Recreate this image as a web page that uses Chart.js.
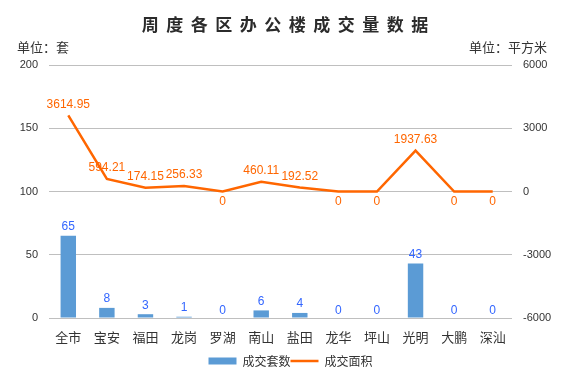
<!DOCTYPE html>
<html>
<head>
<meta charset="utf-8">
<script src="https://cdn.jsdelivr.net/npm/chart.js@4/dist/chart.umd.min.js"></script>
<style>
  html, body { margin: 0; padding: 0; background: #fff; }
  #wrap { width: 581px; height: 372px; }
</style>
</head>
<body>
<div id="wrap"><canvas id="myChart" width="581" height="372"></canvas></div>
<script>
// data
const districts = ['全市', '宝安', '福田', '龙岗', '罗湖', '南山', '盐田', '龙华', '坪山', '光明', '大鹏', '深汕'];
const dealCount = [65, 8, 3, 1, 0, 6, 4, 0, 0, 43, 0, 0];
const dealArea = [3614.95, 594.21, 174.15, 256.33, 0, 460.11, 192.52, 0, 0, 1937.63, 0, 0];
const countTicks = [0, 50, 100, 150, 200];
const areaTicks = [-6000, -3000, 0, 3000, 6000];

const CJK = '"Noto Sans CJK SC", "Liberation Sans", sans-serif';
const NUM = '"Liberation Sans", Arial, sans-serif';
const barColor = '#5B9BD5';
const lineColor = '#FF6600';

// title + unit captions
const headerPlugin = {
  id: 'header',
  afterDraw(chart) {
    const ctx = chart.ctx;
    ctx.save();
    ctx.fillStyle = '#2b2b2b';
    ctx.textBaseline = 'middle';
    ctx.font = 'bold 17px ' + CJK;
    const title = '周度各区办公楼成交量数据';
    const sp = 7.5;
    let w = 0;
    for (const ch of title) w += ctx.measureText(ch).width;
    w += sp * (title.length - 1);
    let x = 285 - w / 2;
    ctx.textAlign = 'left';
    for (const ch of title) {
      ctx.fillText(ch, x, 25);
      x += ctx.measureText(ch).width + sp;
    }
    ctx.fillStyle = '#333';
    ctx.font = '13px ' + CJK;
    ctx.fillText('单位：套', 17, 47);
    ctx.textAlign = 'right';
    ctx.fillText('单位：平方米', 547, 47);
    ctx.restore();
  }
};

// value labels on bars and line points
const valueLabels = {
  id: 'valueLabels',
  afterDatasetsDraw(chart) {
    const ctx = chart.ctx;
    ctx.save();
    ctx.textAlign = 'center';
    ctx.textBaseline = 'middle';
    ctx.font = '12px ' + NUM;
    ctx.fillStyle = '#3366FF';
    chart.getDatasetMeta(0).data.forEach((el, i) => {
      ctx.fillText(String(dealCount[i]), el.x, el.y - (dealCount[i] ? 9 : 7));
    });
    ctx.fillStyle = lineColor;
    chart.getDatasetMeta(1).data.forEach((el, i) => {
      const v = dealArea[i];
      const txt = v === 0 ? '0' : v.toFixed(2);
      ctx.fillText(txt, el.x, v === 0 ? el.y + 10 : el.y - 11);
    });
    ctx.restore();
  }
};

new Chart(document.getElementById('myChart'), {
  data: {
    labels: districts,
    datasets: [
      {
        type: 'bar',
        label: '成交套数',
        data: dealCount,
        backgroundColor: barColor,
        borderWidth: 0,
        yAxisID: 'y',
        barPercentage: 0.4,
        categoryPercentage: 1.0,
        pointStyle: 'rect',
        order: 2
      },
      {
        type: 'line',
        label: '成交面积',
        data: dealArea,
        borderColor: lineColor,
        backgroundColor: lineColor,
        borderWidth: 2.5,
        pointRadius: 0,
        tension: 0,
        yAxisID: 'y1',
        pointStyle: 'line',
        order: 1
      }
    ]
  },
  options: {
    responsive: false,
    animation: false,
    layout: { padding: { top: 65, left: 0, right: 0, bottom: -5 } },
    scales: {
      x: {
        grid: { display: false, drawTicks: false },
        border: { display: false },
        ticks: { color: '#333', font: { family: CJK, size: 13 }, padding: 11, maxRotation: 0 },
        afterFit(s) { s.height = 37; }
      },
      y: {
        position: 'left',
        min: 0, max: 200,
        afterBuildTicks(s) { s.ticks = countTicks.map(v => ({ value: v })); },
        grid: { color: '#BFBFBF', drawTicks: false },
        border: { display: false },
        ticks: { color: '#333', font: { family: NUM, size: 11 }, padding: 11 },
        afterFit(s) { s.width = 49; }
      },
      y1: {
        position: 'right',
        min: -6000, max: 6000,
        afterBuildTicks(s) { s.ticks = areaTicks.map(v => ({ value: v })); },
        grid: { drawOnChartArea: false, drawTicks: false },
        border: { display: false },
        ticks: { color: '#333', font: { family: NUM, size: 11 }, padding: 11, callback: v => String(v) },
        afterFit(s) { s.width = 69; }
      }
    },
    plugins: {
      legend: {
        position: 'bottom',
        labels: {
          usePointStyle: true,
          pointStyleWidth: 28,
          boxHeight: 7,
          padding: 0,
          color: '#333',
          font: { family: CJK, size: 12 },
          sort: (a, b) => a.datasetIndex - b.datasetIndex
        }
      },
      tooltip: { enabled: false }
    }
  },
  plugins: [headerPlugin, valueLabels]
});
</script>
</body>
</html>
